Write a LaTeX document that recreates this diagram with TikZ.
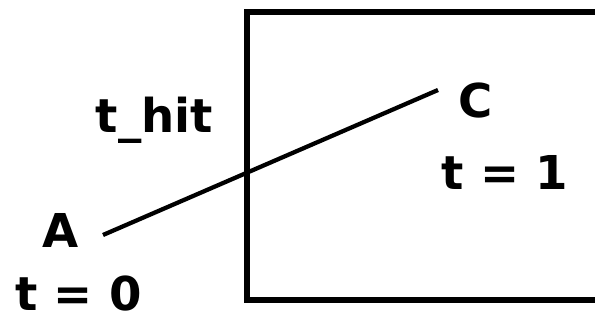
\documentclass[tikz,border=0pt]{standalone}
\usepackage{fontspec}
\setmainfont{DejaVu Sans}
\usepackage{tikz}
\usetikzlibrary{positioning}
\tikzset{
    diagramtext/.style={anchor=base, inner sep=0pt, font=\fontsize{35}{42}\selectfont\bfseries},
    diagrambox/.style={draw, line width=4.5pt},
    diagramray/.style={draw, line width=3.2pt}
}

\begin{document}
\begin{tikzpicture}[x=0.75pt, y=-0.75pt]
        \clip (0,0) rectangle (595,320);
        \path[diagrambox] (247,12) rectangle (640,300);
        \coordinate (start) at (103,235);
        \coordinate (stop) at (438,90);
        \node[diagramtext] (a) at (61,247) {A};
        \node[diagramtext] (tzero) at (78.5,310) {t = 0};
        \node[diagramtext] (thit) at (154.5,133) {t\_hit};
        \node[diagramtext] (c) at (476,118) {C};
        \node[diagramtext] (tone) at (505,190) {t = 1};
        \draw[diagramray] (start) -- (stop);
    \end{tikzpicture}
\end{document}
